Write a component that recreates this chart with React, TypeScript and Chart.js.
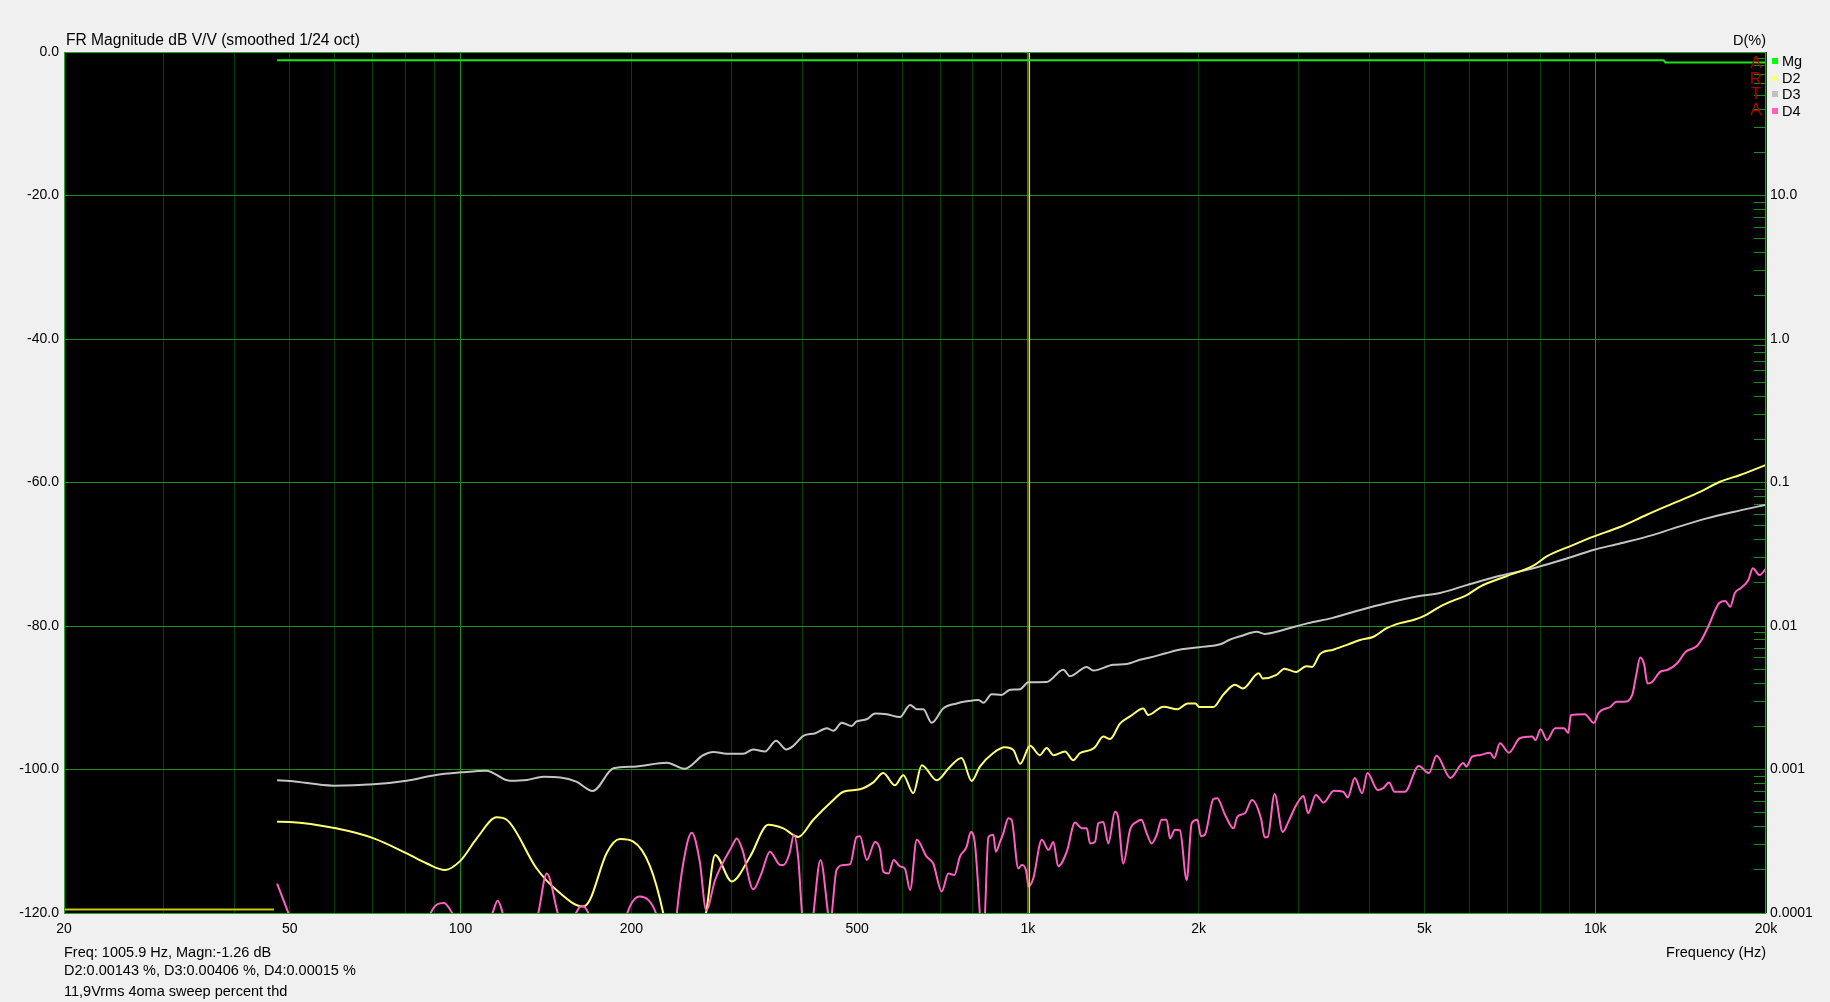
import React, { useEffect, useRef } from 'react';
import { Chart, registerables } from 'chart.js';

Chart.register(...registerables);

// ---------------- data ----------------
// frequency axis gridlines and labels
const X_GRID = [20, 30, 40, 50, 60, 70, 80, 90, 100, 200, 300, 400, 500, 600, 700, 800, 900,
  1000, 2000, 3000, 4000, 5000, 6000, 7000, 8000, 9000, 10000, 20000];
const X_LABEL_VALUES = [20, 50, 100, 200, 500, 1000, 2000, 5000, 10000, 20000];
const X_LABEL_TEXT = ['20', '50', '100', '200', '500', '1k', '2k', '5k', '10k', '20k'];
const X_DECADES = [100, 1000, 10000];

// left axis (dB)
const LEFT_TICK_VALUES = [-120, -100, -80, -60, -40, -20, 0];
const LEFT_TICK_LABELS = ['-120.0', '-100.0', '-80.0', '-60.0', '-40.0', '-20.0', '0.0'];

// right axis (D %)
const RIGHT_DECADES = [0.0001, 0.001, 0.01, 0.1, 1, 10, 100];
const RIGHT_LABELS = ['0.0001', '0.001', '0.01', '0.1', '1.0', '10.0', ''];

// series: [frequency Hz, level dB]
const MG_POINTS = [[47.5, -1.15], [13200, -1.15], [13300, -1.45], [20000, -1.45]];
const BASE_POINTS = [[20, -119.5], [46.9, -119.5]];
const CURSOR_FREQ = 1005.9;

const D2_POINTS = [
  [47.5, -107.27], [50, -107.3], [60.3, -108.2], [70.3, -109.6], [80.4, -111.7], [87.2, -113.1],
  [93.9, -114.0], [100, -112.7], [106.8, -109.6], [115.8, -106.67], [120.6, -107.0], [136.2, -113.8],
  [147.6, -116.8], [164.5, -119.1], [169, -118.2], [180.8, -111.7], [191, -109.7], [201.6, -110.05],
  [215.8, -113.5], [227.6, -120.0], [236, -127], [262, -127], [271.6, -119.4], [281, -111.9],
  [300.6, -115.6], [323.8, -112.15], [348.6, -107.7], [370.6, -108.2], [393.8, -109.4], [418.6, -107.0],
  [454, -104.25], [472.8, -103.1], [506, -102.75], [534, -101.8], [556, -100.5], [583, -102.2],
  [603, -100.8], [628, -103.3], [650, -99.4], [691, -101.5], [729, -99.6], [764, -98.4],
  [796, -101.6], [823, -99.6], [869, -97.7], [911, -96.9], [943, -97.3], [969, -99.2],
  [1009, -96.7], [1050, -98.0], [1079, -97.0], [1109, -98.0], [1163, -97.5], [1202, -98.7],
  [1236, -97.7], [1287, -97.3], [1313, -96.9], [1358, -95.4], [1396, -95.75], [1453, -93.6],
  [1514, -92.6], [1597, -91.5], [1630, -92.4], [1733, -91.25], [1836, -91.6], [1912, -90.8],
  [1974, -90.8], [2006, -91.3], [2122, -91.3], [2209, -89.6], [2318, -88.2], [2394, -88.7],
  [2552, -86.6], [2594, -87.3], [2744, -86.8], [2833, -85.95], [2972, -86.4], [3094, -85.6],
  [3170, -85.7], [3274, -83.9], [3454, -83.3], [3662, -82.6], [3850, -81.95], [4066, -81.5],
  [4291, -80.3], [4528, -79.6], [4809, -79.1], [5048, -78.4], [5328, -77.3], [5646, -76.4],
  [5937, -75.7], [6266, -74.5], [6952, -73.1], [7780, -71.6], [8214, -70.3], [9150, -68.7],
  [9925, -67.55], [11056, -66.2], [12326, -64.5], [13920, -62.7], [15300, -61.3], [16594, -59.9],
  [18000, -58.95], [20000, -57.56],
];

const D3_POINTS = [
  [47.5, -101.5], [50, -101.6], [59.7, -102.25], [70.2, -102.06], [80.4, -101.56], [90, -100.8],
  [100.4, -100.4], [111, -100.16], [122, -101.56], [131, -101.46], [140, -101.0], [150, -101.1],
  [160, -101.7], [171, -103.0], [186, -99.83], [202, -99.6], [231, -99.05], [248, -99.9],
  [268, -97.98], [279, -97.56], [294.5, -97.8], [315, -97.8], [328, -97.2], [344, -97.5],
  [360, -96.0], [375, -97.2], [386, -96.7], [402, -95.3], [422, -94.95], [442, -94.25],
  [454, -94.6], [470, -93.5], [489, -93.95], [499, -93.3], [520, -93.0], [538, -92.2],
  [564, -92.3], [595, -92.7], [620, -91.0], [637, -91.6], [654, -91.6], [677, -93.5],
  [709, -91.5], [749, -90.8], [780, -90.5], [818, -90.3], [835, -90.7], [863, -89.5],
  [899, -89.6], [930, -88.9], [969, -88.8], [1002, -87.85], [1079, -87.8], [1155, -86.1],
  [1186, -87.0], [1270, -85.7], [1304, -86.2], [1414, -85.4], [1493, -85.3], [1576, -84.7],
  [1641, -84.4], [1750, -83.8], [1866, -83.25], [2006, -82.95], [2190, -82.5], [2262, -81.95],
  [2374, -81.4], [2532, -80.8], [2614, -81.1], [2788, -80.65], [3118, -79.6], [3434, -78.9],
  [3842, -77.8], [4298, -76.8], [4846, -75.9], [5328, -75.4], [5937, -74.3], [6796, -73.0],
  [7780, -71.95], [8908, -70.6], [9925, -69.4], [11056, -68.5], [12664, -67.3], [13732, -66.4],
  [15730, -65.0], [17518, -64.1], [20000, -63.1],
];

const D4_POINTS = [
  [47.5, -115.9], [50, -120.5], [53, -126], [85, -126], [88.3, -120.3], [93.5, -118.6],
  [97.1, -120.3], [105, -126], [113.5, -120.3], [116.3, -118.3], [119, -120.3], [126, -126],
  [136.8, -120.3], [141.9, -114.5], [148.7, -120.3], [153, -123], [159, -120.3], [163.5, -119.0],
  [168.6, -120.3], [176, -126], [190, -126], [196.3, -120.3], [207, -117.7], [221.7, -120.3],
  [230, -126], [237, -126], [240.4, -120.3], [247, -113], [255.6, -108.8], [264, -112.8],
  [271, -119.6], [281, -115.4], [300.6, -110.75], [306.9, -109.6], [314, -111.2], [328, -116.7],
  [339, -114.5], [351, -111.45], [366, -113.3], [371, -113.3], [380, -111.7], [387, -109.1],
  [394, -112.6], [400, -120.3], [409, -127], [418.6, -120.3], [431, -112.6], [444.8, -120.3],
  [448, -122], [451, -120.3], [460, -114.0], [473, -113.3], [486, -113.2], [499, -109.4],
  [506, -109.3], [520, -112.6], [538, -110.1], [549, -111.2], [556, -114.25], [568, -114.5],
  [580, -112.6], [595, -113.5], [607, -113.8], [620, -116.8], [637, -109.8], [663, -112.15],
  [681, -113.1], [705, -117.0], [724, -114.5], [742, -114.7], [759, -112.15], [780, -110.75],
  [793, -108.7], [805, -109.8], [823, -120.3], [831, -127], [840, -120.3], [852, -109.4],
  [869, -109.1], [878, -111.45], [893, -110.1], [905, -108.9], [924, -106.8], [936, -107.0],
  [962, -113.8], [975, -113.3], [992, -114.0], [1003, -116.3], [1022, -115.2], [1058, -109.8],
  [1088, -111.2], [1109, -110.1], [1131, -113.5], [1171, -111.45], [1211, -107.4], [1244, -108.2],
  [1270, -108.2], [1287, -110.3], [1313, -110.1], [1331, -107.5], [1358, -107.3], [1386, -110.3],
  [1424, -105.9], [1442, -106.6], [1473, -113.1], [1514, -108.4], [1555, -107.3], [1585, -107.0],
  [1620, -108.9], [1653, -110.3], [1687, -109.1], [1721, -107.0], [1756, -107.0], [1780, -109.6],
  [1817, -108.4], [1854, -108.5], [1905, -115.4], [1944, -107.5], [1990, -107.0], [2018, -109.3],
  [2051, -109.1], [2122, -104.15], [2156, -104.0], [2226, -106.3], [2304, -108.2], [2339, -106.6],
  [2413, -106.1], [2483, -104.25], [2577, -106.9], [2614, -109.45], [2647, -109.4], [2722, -103.4],
  [2813, -108.7], [2878, -107.3], [2972, -104.95], [3060, -103.7], [3118, -106.1], [3218, -103.55],
  [3322, -104.6], [3462, -102.95], [3597, -103.1], [3662, -103.9], [3769, -101.2], [3883, -103.3],
  [3968, -100.5], [4138, -102.85], [4230, -102.6], [4333, -101.8], [4428, -103.1], [4618, -103.1],
  [4887, -99.5], [5090, -100.5], [5254, -98.1], [5556, -101.2], [5854, -99.1], [5926, -99.6],
  [6068, -98.2], [6266, -98.0], [6522, -97.65], [6636, -98.4], [6792, -96.35], [7048, -97.65],
  [7358, -95.65], [7744, -95.4], [7846, -95.9], [8011, -94.4], [8222, -95.9], [8498, -94.25],
  [8810, -94.25], [8962, -94.9], [9064, -92.4], [9586, -92.3], [9946, -93.5], [10138, -92.1],
  [10644, -91.25], [10898, -90.55], [11255, -90.55], [11621, -89.6], [11814, -86.8], [12000, -84.4],
  [12200, -85.4], [12360, -88.0], [12596, -87.8], [13012, -86.4], [13424, -86.1], [13948, -85.2],
  [14436, -83.6], [15110, -82.8], [15390, -81.95], [15815, -80.1], [16540, -76.8], [16947, -76.5],
  [17296, -77.3], [17626, -75.4], [18066, -74.7], [18617, -73.6], [18955, -71.95], [19479, -72.9],
  [20000, -72.0],
];

const LEGEND_NAMES = ['Mg', 'D2', 'D3', 'D4'];
const LEGEND_COLORS = ['#00ff00', '#ffff80', '#c0c0c0', '#ff60c0'];
const FOOTER_LINES = [
  'Freq: 1005.9 Hz, Magn:-1.26 dB',
  'D2:0.00143 %, D3:0.00406 %, D4:0.00015 %',
  '11,9Vrms 4oma sweep percent thd',
];

// ---------------- styling ----------------
const FONT = "'Liberation Sans', Arial, Helvetica, sans-serif";
const GRID_BRIGHT = '#1c8e1c';
const GRID_DARK = '#0a3e0a';
const FRAME = '#20a820';

const toXY = (pts: number[][]) => pts.map(([x, y]) => ({ x, y }));

const plotFrame = {
  id: 'plotFrame',
  beforeDraw(chart: any) {
    const { ctx, chartArea } = chart;
    ctx.save();
    ctx.fillStyle = '#000000';
    ctx.fillRect(chartArea.left, chartArea.top, chartArea.right - chartArea.left, chartArea.bottom - chartArea.top);
    ctx.restore();
  },
  afterDraw(chart: any) {
    const { ctx, chartArea } = chart;
    ctx.save();
    ctx.strokeStyle = FRAME;
    ctx.lineWidth = 1;
    ctx.strokeRect(chartArea.left + 0.5, chartArea.top + 0.5, chartArea.right - chartArea.left - 1, chartArea.bottom - chartArea.top);
    ctx.restore();
  },
};

function buildRightTicks() {
  const vals: number[] = [];
  const labels: string[] = [];
  for (let i = 0; i < RIGHT_DECADES.length; i++) {
    const d = RIGHT_DECADES[i];
    if (i === RIGHT_DECADES.length - 1) {
      vals.push(d);
      labels.push(RIGHT_LABELS[i]);
    } else {
      for (let m = 1; m <= 9; m++) {
        vals.push(d * m);
        labels.push(m === 1 ? RIGHT_LABELS[i] : '');
      }
    }
  }
  return { vals, labels };
}

const Text = (p: { left?: number; right?: number; cy: number; size?: number; color?: string; children: any; width?: number; align?: any }) => (
  <div
    style={{
      position: 'absolute',
      left: p.left,
      right: p.right,
      top: p.cy - 10,
      width: p.width,
      textAlign: p.align,
      height: 20,
      lineHeight: '20px',
      fontFamily: FONT,
      fontSize: (p.size || 14.5) + 'px',
      color: p.color || '#000',
      whiteSpace: 'nowrap',
    }}
  >
    {p.children}
  </div>
);

export default function App() {
  const ref = useRef<HTMLCanvasElement>(null);

  useEffect(() => {
    const right = buildRightTicks();
    const tickFont = { family: FONT, size: 14 };
    const yMin = LEFT_TICK_VALUES[0];
    const yMax = LEFT_TICK_VALUES[LEFT_TICK_VALUES.length - 1];
    const lineDs = (label: string, pts: number[][], color: string, smooth: boolean) => ({
      label,
      data: toXY(pts),
      borderColor: color,
      backgroundColor: color,
      borderWidth: 2,
      pointRadius: 0,
      fill: false,
      cubicInterpolationMode: smooth ? 'monotone' : 'default',
      tension: 0,
      xAxisID: 'x',
      yAxisID: 'y',
    });

    const chart = new Chart(ref.current as HTMLCanvasElement, {
      type: 'line',
      data: {
        datasets: [
          lineDs('Mg', MG_POINTS, '#19e619', false),
          {
            ...lineDs('cursor', [[CURSOR_FREQ, yMin], [CURSOR_FREQ, yMax]], '#e8e800', false),
            borderWidth: 1.5,
          },
          lineDs('D4', D4_POINTS, '#ff5fc3', true),
          lineDs('D2', D2_POINTS, '#ffff70', true),
          lineDs('D3', D3_POINTS, '#c4c4c4', true),
          lineDs('base', BASE_POINTS, '#c8c800', false),
        ] as any,
      },
      options: {
        animation: false,
        responsive: false,
        maintainAspectRatio: false,
        devicePixelRatio: 1,
        events: [],
        layout: { padding: { top: 52, left: 0, right: 0, bottom: 0 } },
        plugins: { legend: { display: false }, tooltip: { enabled: false }, title: { display: false } },
        scales: {
          x: {
            type: 'logarithmic',
            position: 'bottom',
            min: 20,
            max: 20000,
            afterBuildTicks: (s: any) => { s.ticks = X_GRID.map((v) => ({ value: v })); },
            afterFit: (s: any) => { s.height = 89; },
            grid: {
              color: (c: any) => (c.tick && X_DECADES.includes(c.tick.value) ? GRID_BRIGHT : GRID_DARK),
              lineWidth: 1,
              drawTicks: false,
            },
            border: { display: false },
            ticks: {
              autoSkip: false,
              maxRotation: 0,
              minRotation: 0,
              padding: 8,
              color: '#000',
              font: tickFont,
              callback: (_v: any, i: number) => {
                const k = X_LABEL_VALUES.indexOf(X_GRID[i]);
                return k >= 0 ? X_LABEL_TEXT[k] : '';
              },
            },
          },
          y: {
            type: 'linear',
            position: 'left',
            min: yMin,
            max: yMax,
            afterBuildTicks: (s: any) => { s.ticks = LEFT_TICK_VALUES.map((v) => ({ value: v })); },
            afterFit: (s: any) => { s.width = 64; },
            grid: { color: GRID_BRIGHT, lineWidth: 1, drawTicks: false },
            border: { display: false },
            ticks: {
              autoSkip: false,
              padding: 5,
              color: '#000',
              font: tickFont,
              callback: (_v: any, i: number) => LEFT_TICK_LABELS[i],
            },
          },
          yR: {
            type: 'logarithmic',
            position: 'right',
            min: RIGHT_DECADES[0],
            max: RIGHT_DECADES[RIGHT_DECADES.length - 1],
            afterBuildTicks: (s: any) => { s.ticks = right.vals.map((v) => ({ value: v })); },
            afterFit: (s: any) => { s.width = 64; },
            grid: { drawOnChartArea: false, drawTicks: true, tickLength: -12, color: GRID_BRIGHT, lineWidth: 1 },
            border: { display: false },
            ticks: {
              autoSkip: false,
              padding: 16,
              color: '#000',
              font: tickFont,
              callback: (_v: any, i: number) => right.labels[i],
            },
          },
        } as any,
      },
      plugins: [plotFrame],
    } as any);
    return () => chart.destroy();
  }, []);

  const legendCy = [60.5, 77.5, 94, 110.5];
  const artaCy = [62.5, 78.5, 94, 109.5];

  return (
    <div style={{ position: 'fixed', left: 0, top: 0, width: 1830, height: 1002, background: '#f0f0f0', overflow: 'hidden' }}>
      <canvas ref={ref} width={1830} height={1002} style={{ position: 'absolute', left: 0, top: 0, width: 1830, height: 1002 }} />
      <Text left={66} cy={40} size={15.6}>FR Magnitude dB V/V (smoothed 1/24 oct)</Text>
      <Text right={64} cy={40}>D(%)</Text>
      <Text right={64} cy={952}>Frequency (Hz)</Text>
      {FOOTER_LINES.map((t, i) => (
        <Text key={t} left={64} cy={[951.5, 969.5, 990.5][i]}>{t}</Text>
      ))}
      {LEGEND_NAMES.map((n, i) => (
        <React.Fragment key={n}>
          <div style={{ position: 'absolute', left: 1772, top: legendCy[i] - 3, width: 6, height: 6, background: LEGEND_COLORS[i] }} />
          <Text left={1782} cy={legendCy[i]}>{n}</Text>
        </React.Fragment>
      ))}
      {['A', 'R', 'T', 'A'].map((ch, i) => (
        <Text key={i} left={1746} width={20} align="center" cy={artaCy[i]} size={17} color="#a80000">{ch}</Text>
      ))}
    </div>
  );
}
